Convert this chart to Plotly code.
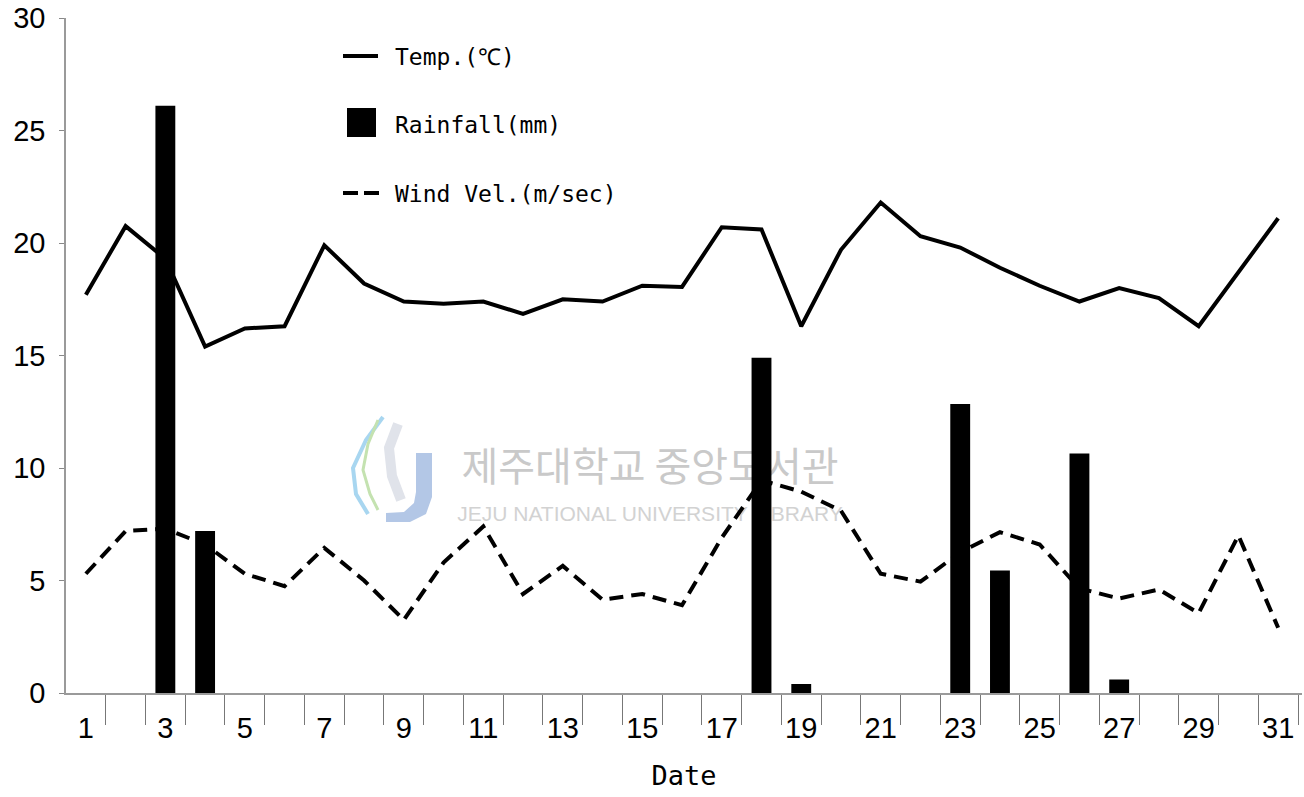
import plotly.graph_objects as go

# Daily weather record for one month
days = list(range(1, 32))
temp_c = [17.7, 20.75, 19.3, 15.4, 16.2, 16.3, 19.9, 18.2, 17.4, 17.3,
          17.4, 16.85, 17.5, 17.4, 18.1, 18.05, 20.7, 20.6, 16.3, 19.7,
          21.8, 20.3, 19.8, 18.9, 18.1, 17.4, 18.0, 17.55, 16.3, 18.7, 21.1]
wind_ms = [5.3, 7.2, 7.3, 6.6, 5.3, 4.75, 6.45, 5.0, 3.25, 5.8,
           7.4, 4.4, 5.65, 4.15, 4.4, 3.9, 6.9, 9.45, 8.95, 8.1,
           5.3, 4.95, 6.25, 7.15, 6.6, 4.65, 4.2, 4.6, 3.55, 7.0, 2.9]
rain_days = [3, 4, 18, 19, 23, 24, 26, 27]
rain_mm = [26.1, 7.2, 14.9, 0.4, 12.85, 5.45, 10.65, 0.6]

x_ticks = list(range(1, 32, 2))
x_tick_text = [str(d) for d in x_ticks]
y_ticks = [0, 5, 10, 15, 20, 25, 30]

W, H = 1304, 797
L, R, T, B = 66, 2, 18, 104


def px(x):
    return (x - L) / (W - L - R)


def py(y):
    return (H - B - y) / (H - T - B)


def path(points, close=False):
    s = "M " + " L ".join(f"{px(a):.5f},{py(b):.5f}" for a, b in points)
    return s + (" Z" if close else "")


fig = go.Figure()
fig.add_trace(go.Bar(x=rain_days, y=rain_mm, width=0.5,
                     marker=dict(color="#000000", line=dict(width=0)),
                     name="Rainfall(mm)", showlegend=False))
fig.add_trace(go.Scatter(x=days, y=temp_c, mode="lines",
                         line=dict(color="#000000", width=4),
                         name="Temp.(℃)", showlegend=False))
fig.add_trace(go.Scatter(x=days, y=wind_ms, mode="lines",
                         line=dict(color="#000000", width=4, dash="14px,8px"),
                         name="Wind Vel.(m/sec)", showlegend=False))

legend_font = dict(family="DejaVu Sans Mono", size=23, color="#000000")
shapes = [
    dict(type="line", xref="paper", yref="paper", x0=px(343), x1=px(378),
         y0=py(56), y1=py(56), line=dict(color="#000000", width=4)),
    dict(type="rect", xref="paper", yref="paper", x0=px(347), x1=px(376),
         y0=py(108), y1=py(137), fillcolor="#000000", line=dict(width=0)),
    dict(type="line", xref="paper", yref="paper", x0=px(343), x1=px(380),
         y0=py(193), y1=py(193),
         line=dict(color="#000000", width=4, dash="15px,6px")),
]

# library watermark, kept beneath the data
shapes += [
    dict(type="path", xref="paper", yref="paper", layer="below",
         path=path([(398, 424), (389, 448), (392, 476), (401, 500)]),
         line=dict(color="#e0e3ea", width=10)),
    dict(type="path", xref="paper", yref="paper", layer="below",
         path=path([(383, 417), (366, 440), (353, 468), (356, 494), (368, 514)]),
         line=dict(color="#a8d6f0", width=4)),
    dict(type="path", xref="paper", yref="paper", layer="below",
         path=path([(378, 420), (368, 444), (363, 470), (370, 494), (378, 510)]),
         line=dict(color="#c4e2b0", width=3)),
    dict(type="path", xref="paper", yref="paper", layer="below",
         path=path([(416, 453), (432, 453), (432, 497), (426, 514), (410, 522),
                    (386, 522), (386, 513), (404, 512), (414, 503), (416, 492)], True),
         fillcolor="#b3c7e6", line=dict(width=0)),
    dict(type="rect", xref="paper", yref="paper", layer="below",
         x0=px(450), x1=px(850), y0=py(492), y1=py(447),
         line=dict(width=0), fillcolor="rgba(0,0,0,0)",
         label=dict(text="제주대학교 중앙도서관",
                    font=dict(family="Noto Sans CJK KR", size=40, color="#c9c9c9"),
                    textposition="middle center")),
    dict(type="rect", xref="paper", yref="paper", layer="below",
         x0=px(450), x1=px(850), y0=py(522), y1=py(500),
         line=dict(width=0), fillcolor="rgba(0,0,0,0)",
         label=dict(text="JEJU NATIONAL UNIVERSITY LIBRARY",
                    font=dict(family="Liberation Sans", size=21, color="#d2d2d2"),
                    textposition="middle center")),
]

annotations = [
    dict(xref="paper", yref="paper", x=px(393), y=py(57), xanchor="left",
         yanchor="middle", text="Temp.(℃)", showarrow=False, font=legend_font),
    dict(xref="paper", yref="paper", x=px(393), y=py(125), xanchor="left",
         yanchor="middle", text="Rainfall(mm)", showarrow=False, font=legend_font),
    dict(xref="paper", yref="paper", x=px(393), y=py(194), xanchor="left",
         yanchor="middle", text="Wind Vel.(m/sec)", showarrow=False, font=legend_font),
]

tick_font = dict(family="Liberation Sans", size=29, color="#000000")
fig.update_layout(
    width=W, height=H,
    margin=dict(l=L, r=R, t=T, b=B),
    paper_bgcolor="#ffffff", plot_bgcolor="#ffffff",
    shapes=shapes, annotations=annotations,
    showlegend=False,
    xaxis=dict(range=[0.5, 31.6], tickmode="array", tickvals=x_ticks,
               ticktext=x_tick_text, ticks="", tickfont=tick_font,
               ticklabelstandoff=8,
               minor=dict(tickmode="array",
                          tickvals=[d + 0.5 for d in days],
                          ticks="outside", ticklen=30, tickwidth=1,
                          tickcolor="#777777"),
               showline=True, linecolor="#9a9a9a", linewidth=1.5,
               showgrid=False, zeroline=False,
               title=dict(text="Date", standoff=24,
                          font=dict(family="DejaVu Sans Mono", size=27,
                                    color="#000000"))),
    yaxis=dict(range=[0, 30], tickmode="array", tickvals=y_ticks,
               ticks="outside", ticklen=5, tickcolor="#888888", tickwidth=1,
               tickfont=tick_font, ticklabelstandoff=8,
               showline=True, linecolor="#9a9a9a", linewidth=1.5,
               showgrid=False, zeroline=False),
)

fig.write_html("out.html")
